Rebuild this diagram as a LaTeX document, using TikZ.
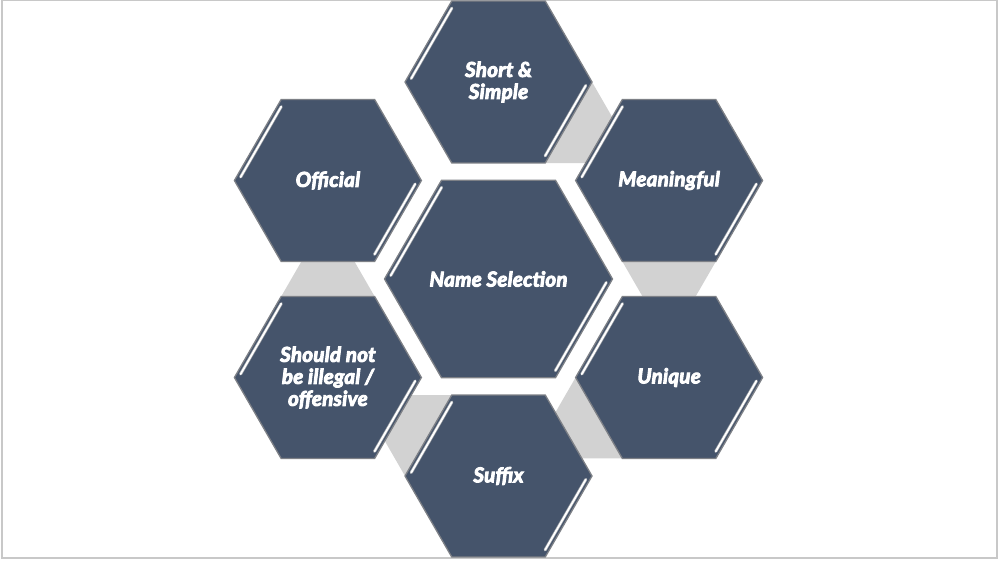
\documentclass[tikz,border=0pt]{standalone}
\usepackage{fontspec}
\newfontfamily\lbl{Lato}[BoldItalicFeatures={FakeBold=4.5}, LetterSpace=1.5]
\usetikzlibrary{calc}
\definecolor{hexfill}{RGB}{69,84,107}
\definecolor{hexline}{RGB}{125,128,134}
\definecolor{connfill}{RGB}{210,210,210}
\definecolor{framecol}{RGB}{200,200,200}
\definecolor{hlshade}{RGB}{150,155,162}
\tikzset{
  hexbody/.style={fill=hexfill},
  hexedge/.style={draw=hexline, line width=1.3pt, line join=miter},
  hexshade/.style={draw=hlshade, line width=3.2pt, line cap=round, shorten <=4pt, shorten >=4pt},
  hexlight/.style={draw=white, line width=1.9pt, line cap=round, shorten <=4pt, shorten >=4pt},
  hexlabel/.style={text=white, align=center, font=\lbl\bfseries\itshape\fontsize{20.5}{22}\selectfont, inner sep=0pt},
  connector/.style={fill=connfill}
}
\newcommand{\hexa}[5]{%
  \begin{scope}[shift={(#2,#3)}]
    \path[hexbody] (0:#4) -- (60:#4) -- (120:#4) -- (180:#4) -- (240:#4) -- (300:#4) -- cycle;
    \path[hexedge] (0:#4) -- (60:#4) -- (120:#4) -- (180:#4) -- (240:#4) -- (300:#4) -- cycle;
    \path[hexshade] (240:{#4-4.2}) -- (180:{#4-4.2});
    \path[hexlight] (240:{#4-4.2}) -- (180:{#4-4.2});
    \path[hexshade] (0:{#4-4.2}) -- (60:{#4-4.2});
    \path[hexlight] (0:{#4-4.2}) -- (60:{#4-4.2});
  \end{scope}
  \node[hexlabel] (#1) at (#2,#3) {#5};
}
\begin{document}
\begin{tikzpicture}[x=1pt,y=-1pt]
  % background and frame
  \fill[white] (0,0) rectangle (999,562);
  \draw[framecol, line width=1.2pt] (2,0.6) rectangle (997,558);
  \useasboundingbox (0,0) rectangle (999,562);
  \coordinate (C) at (498.5,279);
  % gray connectors (rotations of the first one about the centre)
  \foreach \a in {0,-60,-120,-180,-240}{
    \begin{scope}[rotate around={\a:(C)}]
      \path[connector] (592,82) -- (620,130.6) -- (595,163) -- (545.25,163) -- cycle;
    \end{scope}
  }
  % hexagons
  \hexa{center}{498.5}{279}{114}{Name Selection}
  \hexa{short}{498.5}{82}{93.5}{Short \&\\Simple}
  \hexa{meaning}{669.1}{180.5}{93.5}{Meaningful}
  \hexa{unique}{669.1}{377.5}{93.5}{Unique}
  \hexa{suffix}{498.5}{476}{93.5}{Suffix}
  \hexa{illegal}{327.9}{377.5}{93.5}{Should not\\be illegal /\\offensive}
  \hexa{official}{327.9}{180.5}{93.5}{Official}
\end{tikzpicture}
\end{document}
